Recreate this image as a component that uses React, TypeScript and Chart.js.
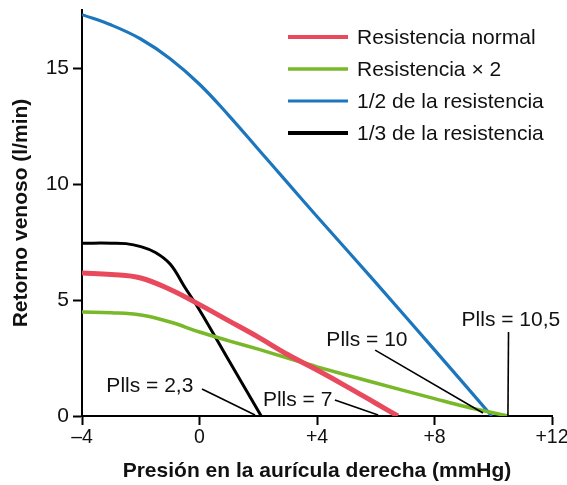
import React, { useEffect, useRef } from "react";
import { Chart, registerables } from "chart.js";

Chart.register(...registerables);

// Series data (x: presión en aurícula derecha, y: retorno venoso)
const normalX = [-4, -3, -2, -1, 0, 1, 2, 3, 4, 5, 6, 6.75];
const normalY = [6.16, 6.1, 5.95, 5.45, 4.8, 4.1, 3.4, 2.65, 1.98, 1.28, 0.55, 0];

const doubleX = [-4, -3, -2, -1, 0, 1, 2, 3, 4, 6, 8, 9, 10.5];
const doubleY = [4.48, 4.45, 4.35, 4.05, 3.62, 3.24, 2.88, 2.5, 2.12, 1.42, 0.75, 0.42, 0];

const halfX = [-4, -3, -2, -1, 0, 1, 2, 3, 4, 6, 8, 9.95];
const halfY = [17.3, 16.85, 16.25, 15.4, 14.3, 12.95, 11.5, 10.05, 8.6, 5.75, 2.85, 0];

const thirdX = [-4, -3, -2.5, -2, -1.5, -1, -0.5, 0, 1, 2.1];
const thirdY = [7.45, 7.45, 7.43, 7.3, 7.05, 6.55, 5.55, 4.57, 2.39, 0];

const seriesLabels = [
  "Resistencia normal",
  "Resistencia × 2",
  "1/2 de la resistencia",
  "1/3 de la resistencia",
];
const seriesColors = ["#e8495c", "#78b829", "#1c76bd", "#000000"];
const seriesWidths = [5, 3.5, 3.2, 3];
const legendWidths = [4, 3.5, 3.2, 4];

const xTicks = [-4, 0, 4, 8, 12];
const yTicks = [0, 5, 10, 15];

// Annotation labels: text, text anchor (data units), leader line (data units)
const annotTexts = ["Plls = 2,3", "Plls = 7", "Plls = 10", "Plls = 10,5"];
const annotTextPos = [
  [-1.69, 1.29],
  [3.34, 0.69],
  [5.7, 3.28],
  [10.6, 4.14],
];
const annotLines = [
  [0.085, 1.16, 1.89, 0.04],
  [4.61, 0.69, 6.08, 0.04],
  [5.98, 2.84, 9.65, 0.13],
  [10.52, 3.62, 10.5, 0.0],
];

const FONT = "'Liberation Sans', Arial, Helvetica, sans-serif";
const FS = 21;

function toPoints(xs: number[], ys: number[]) {
  return xs.map((x, i) => ({ x, y: ys[i] }));
}

const overlayPlugin = {
  id: "overlay",
  afterDatasetsDraw(chart: any) {
    const { ctx, chartArea, scales } = chart;
    const xs = scales.x;
    const ys = scales.y;
    ctx.save();
    // annotations
    ctx.font = `${FS}px ${FONT}`;
    ctx.fillStyle = "#111";
    ctx.textAlign = "center";
    ctx.textBaseline = "middle";
    annotTexts.forEach((t, i) => {
      const [tx, ty] = annotTextPos[i];
      ctx.fillText(t, xs.getPixelForValue(tx), ys.getPixelForValue(ty));
      const [x1, y1, x2, y2] = annotLines[i];
      ctx.beginPath();
      ctx.strokeStyle = "#000";
      ctx.lineWidth = 1.6;
      ctx.moveTo(xs.getPixelForValue(x1), ys.getPixelForValue(y1));
      ctx.lineTo(xs.getPixelForValue(x2), ys.getPixelForValue(y2));
      ctx.stroke();
    });
    // legend
    const lx0 = chartArea.right - 264;
    const lx1 = lx0 + 60;
    const tx = lx1 + 9;
    const rowY0 = chartArea.top + 27;
    const rowStep = 32;
    ctx.textAlign = "left";
    seriesLabels.forEach((label, i) => {
      const y = rowY0 + i * rowStep;
      ctx.beginPath();
      ctx.strokeStyle = seriesColors[i];
      ctx.lineWidth = legendWidths[i];
      ctx.moveTo(lx0, y);
      ctx.lineTo(lx1, y);
      ctx.stroke();
      ctx.fillStyle = "#111";
      ctx.fillText(label, tx, y + 1);
    });
    ctx.restore();
  },
};

export default function App() {
  const ref = useRef<HTMLCanvasElement | null>(null);

  useEffect(() => {
    if (!ref.current) return;
    const seriesX = [normalX, doubleX, halfX, thirdX];
    const seriesY = [normalY, doubleY, halfY, thirdY];
    const chart = new Chart(ref.current, {
      type: "line",
      data: {
        datasets: seriesLabels.map((label, i) => ({
          label,
          data: toPoints(seriesX[i], seriesY[i]),
          borderColor: seriesColors[i],
          backgroundColor: seriesColors[i],
          borderWidth: seriesWidths[i],
          pointRadius: 0,
          fill: false,
          tension: 0.4,
          borderCapStyle: "butt" as const,
        })),
      },
      options: {
        responsive: false,
        animation: false,
        layout: { padding: { top: 10, right: 15, left: 0, bottom: 0 } },
        plugins: {
          legend: { display: false },
          tooltip: { enabled: false },
        },
        scales: {
          x: {
            type: "linear",
            min: -4,
            max: 12,
            afterBuildTicks: (s: any) => {
              s.ticks = xTicks.map((v) => ({ value: v }));
            },
            afterFit: (s: any) => {
              s.height = 69;
              s.paddingLeft = 0;
              s.paddingRight = 0;
            },
            ticks: {
              font: { family: FONT, size: 19.5 },
              color: "#111",
              padding: 1,
              maxRotation: 0,
              callback: (v: any) =>
                v > 0 ? "+" + v : v < 0 ? "–" + Math.abs(v) : "0",
            },
            grid: {
              drawOnChartArea: false,
              drawTicks: true,
              tickLength: 9,
              tickColor: "#000",
              tickWidth: 2,
            },
            border: { display: true, color: "#000", width: 2 },
            title: {
              display: true,
              text: "Presión en la aurícula derecha (mmHg)",
              font: { family: FONT, size: FS, weight: "bold" },
              color: "#111",
              padding: { top: 0, bottom: 1 },
            },
          },
          y: {
            type: "linear",
            min: 0,
            max: 17.5,
            afterBuildTicks: (s: any) => {
              s.ticks = yTicks.map((v) => ({ value: v }));
            },
            afterFit: (s: any) => {
              s.width = 82;
              s.paddingTop = 0;
              s.paddingBottom = 0;
            },
            ticks: {
              font: { family: FONT, size: FS },
              color: "#111",
              padding: 4,
            },
            grid: {
              drawOnChartArea: false,
              drawTicks: true,
              tickLength: 9,
              tickColor: "#000",
              tickWidth: 2,
            },
            border: { display: true, color: "#000", width: 2 },
            title: {
              display: true,
              text: "Retorno venoso (l/min)",
              font: { family: FONT, size: FS, weight: "bold" },
              color: "#111",
              padding: { top: 9, bottom: 0 },
            },
          },
        },
      },
      plugins: [overlayPlugin],
    });
    return () => chart.destroy();
  }, []);

  return (
    <div style={{ position: "fixed", left: 0, top: 0, width: 567, height: 485, background: "#fff" }}>
      <canvas ref={ref} width={567} height={485} style={{ display: "block" }} />
    </div>
  );
}
